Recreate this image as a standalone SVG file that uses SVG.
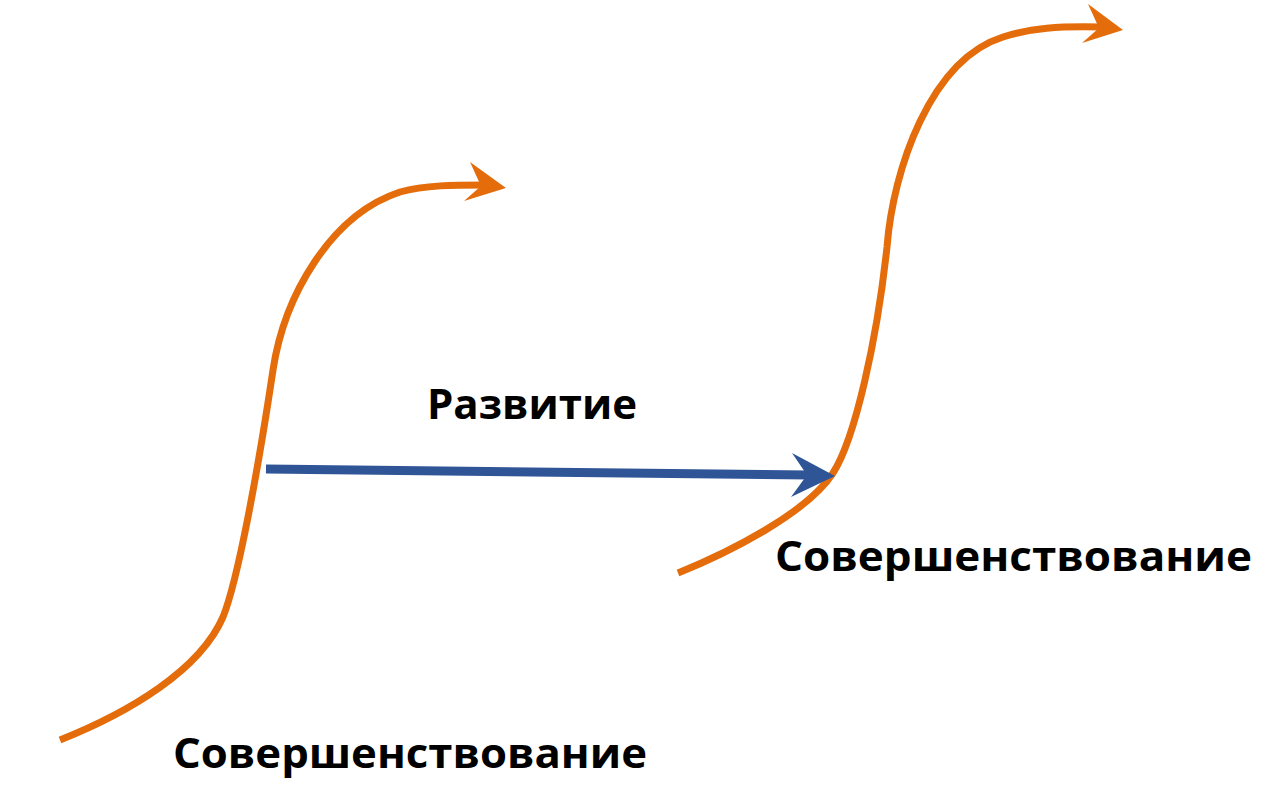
<svg xmlns="http://www.w3.org/2000/svg" width="1282" height="796" viewBox="0 0 1282 796">
<style>
.curve{fill:none;stroke:#E46C0A;stroke-width:7;stroke-linecap:butt}
.head{fill:#E46C0A}
.dev{fill:none;stroke:#2F5597;stroke-width:9}
.devhead{fill:#2F5597}
.lbl{font-family:"Open Sans","Noto Sans","Liberation Sans",sans-serif;font-weight:bold;font-size:42px;fill:#000}
</style>
<rect width="1282" height="796" fill="#fff"/>
<g id="curve1">
<path class="curve" d="M60,740 C130,712 200,670 223,617 C238,580 258,470 273,370 C284,297 330,215 400,192 C425,185 455,185 484,185"/>
<polygon class="head" points="506,188 470,162 481,186 464,201"/>
</g>
<g id="curve2">
<path class="curve" d="M678,573 C730,552 807,513 833,473 C855,439 877,340 887,247 C893,170 930,60 1003,37 C1030,28 1060,26 1101,27"/>
<polygon class="head" points="1123,30 1088,4 1099,28 1082,43"/>
</g>
<g id="connectors">
<path class="dev" d="M266,469 L809,475"/>
<polygon class="devhead" points="835,476 792,453 807,475 791,497"/>
</g>
<g id="label-development">
<text class="lbl" x="427" y="419" textLength="210" lengthAdjust="spacingAndGlyphs">Развитие</text>
</g>
<g id="label-improvement-1">
<text class="lbl" x="173" y="768" textLength="474" lengthAdjust="spacingAndGlyphs">Совершенствование</text>
</g>
<g id="label-improvement-2">
<text class="lbl" x="775" y="571" textLength="477" lengthAdjust="spacingAndGlyphs">Совершенствование</text>
</g>
</svg>
